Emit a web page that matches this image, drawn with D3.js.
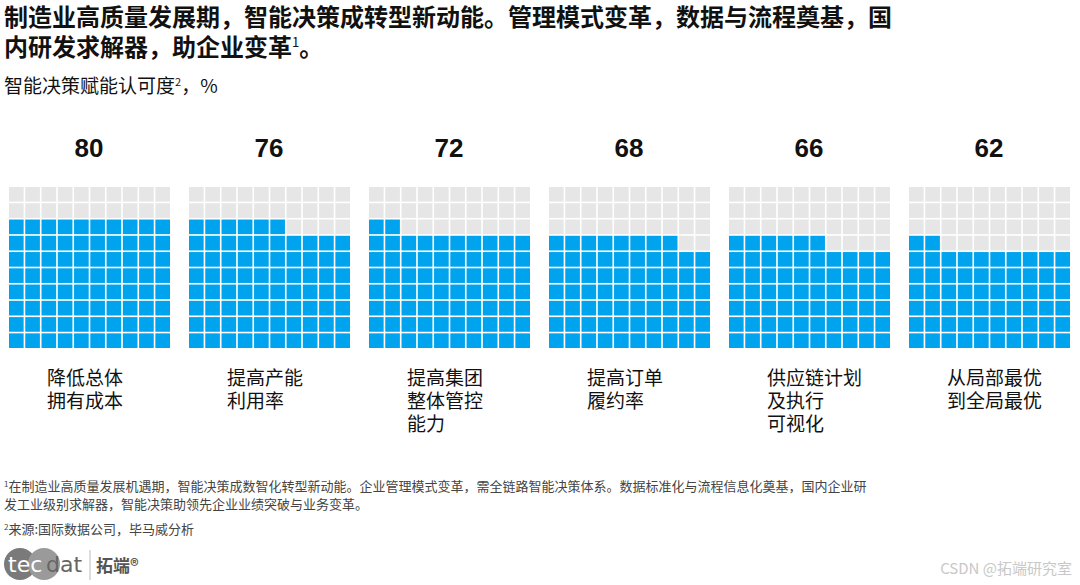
<!DOCTYPE html>
<html><head><meta charset="utf-8">
<script src="https://cdn.jsdelivr.net/npm/d3@7"></script>
<style>body{margin:0;background:#fff}</style>
</head><body>
<svg id="c" width="1080" height="585"></svg>
<script>
const categories = [['降低总体','拥有成本'],['提高产能','利用率'],['提高集团','整体管控','能力'],['提高订单','履约率'],['供应链计划','及执行','可视化'],['从局部最优','到全局最优']];
const values = [80, 76, 72, 68, 66, 62];

const svg = d3.select('#c');
const font = '"Noto Sans CJK SC", "Noto Sans", sans-serif';

// 标题
const title = svg.append('text').attr('font-family', font).attr('font-size', 24)
    .attr('font-weight', 700).attr('fill', '#111');
title.append('tspan').attr('x', 4).attr('y', 26).text('制造业高质量发展期，智能决策成转型新动能。管理模式变革，数据与流程奠基，国');
title.append('tspan').attr('x', 4).attr('y', 56).text('内研发求解器，助企业变革');
title.append('tspan').attr('font-size', 13).attr('dy', -9).attr('font-weight', 400).text('1');
title.append('tspan').attr('dy', 9).text('。');

const sub = svg.append('text').attr('x', 4).attr('y', 93).attr('font-family', font)
    .attr('font-size', 19).attr('fill', '#111');
sub.append('tspan').text('智能决策赋能认可度');
sub.append('tspan').attr('font-size', 11).attr('dy', -7).text('2');
sub.append('tspan').attr('dy', 7).text('，%');

const cell = d3.scaleBand().domain(d3.range(10)).range([0, 161]).paddingInner(0.1);
const gridLeft = 9, gridTop = 187, step = 180;

values.forEach((v, i) => {
    const g = svg.append('g').attr('transform', `translate(${gridLeft + i * step},${gridTop})`);
    const cells = d3.range(100).map(k => ({ row: 9 - Math.floor(k / 10), col: k % 10, on: k < v }));
    g.selectAll('rect').data(cells).join('rect')
        .attr('x', d => cell(d.col)).attr('y', d => cell(d.row))
        .attr('width', cell.bandwidth()).attr('height', cell.bandwidth())
        .attr('fill', d => d.on ? '#00a3ed' : '#e6e6e6');
    g.append('text').attr('x', 80).attr('y', -30).attr('text-anchor', 'middle')
        .attr('font-family', 'Liberation Sans, Arial, sans-serif').attr('font-weight', 700)
        .attr('font-size', 26).attr('fill', '#111').text(v);
    g.append('text').attr('x', 38).attr('y', 198).attr('font-family', font)
        .attr('font-size', 19).attr('fill', '#111')
        .selectAll('tspan').data(categories[i]).join('tspan')
        .attr('x', 38).attr('dy', (d, j) => j ? 23 : 0).text(d => d);
});

// 脚注
const fn = svg.append('text').attr('font-family', font).attr('font-size', 13).attr('fill', '#444');
const f1 = fn.append('tspan').attr('x', 4).attr('y', 491);
f1.append('tspan').attr('font-size', 8).attr('dy', -4).text('1');
f1.append('tspan').attr('dy', 4).text('在制造业高质量发展机遇期，智能决策成数智化转型新动能。企业管理模式变革，需全链路智能决策体系。数据标准化与流程信息化奠基，国内企业研');
fn.append('tspan').attr('x', 4).attr('y', 509).text('发工业级别求解器，智能决策助领先企业业绩突破与业务变革。');
const f3 = fn.append('tspan').attr('x', 4).attr('y', 534);
f3.append('tspan').attr('font-size', 8).attr('dy', -4).text('2');
f3.append('tspan').attr('dy', 4).text('来源:国际数据公司，毕马威分析');

// logo
const logo = svg.append('g').attr('transform', 'translate(4,548)');
logo.append('circle').attr('cx', 16).attr('cy', 16).attr('r', 16).attr('fill', '#7a7a7a');
logo.append('circle').attr('cx', 40).attr('cy', 16).attr('r', 16).attr('fill', '#9a9a9a');
logo.append('text').attr('x', 4).attr('y', 24).attr('font-family', 'DejaVu Sans, sans-serif')
    .attr('font-size', 22).attr('fill', '#fff').text('tec');
logo.append('text').attr('x', 42).attr('y', 24).attr('font-family', 'DejaVu Sans, sans-serif')
    .attr('font-size', 22).attr('fill', '#666').text('dat');
logo.append('line').attr('x1', 86).attr('x2', 86).attr('y1', 2).attr('y2', 32).attr('stroke', '#bbb');
logo.append('text').attr('x', 92).attr('y', 24).attr('font-family', font).attr('font-weight', 700)
    .attr('font-size', 17).attr('fill', '#555').text('拓端®');
svg.append('text').attr('x', 1072).attr('y', 574).attr('text-anchor', 'end').attr('font-family', font)
    .attr('font-size', 15).attr('fill', '#c8c8c8').text('CSDN @拓端研究室');
</script>
</body></html>
